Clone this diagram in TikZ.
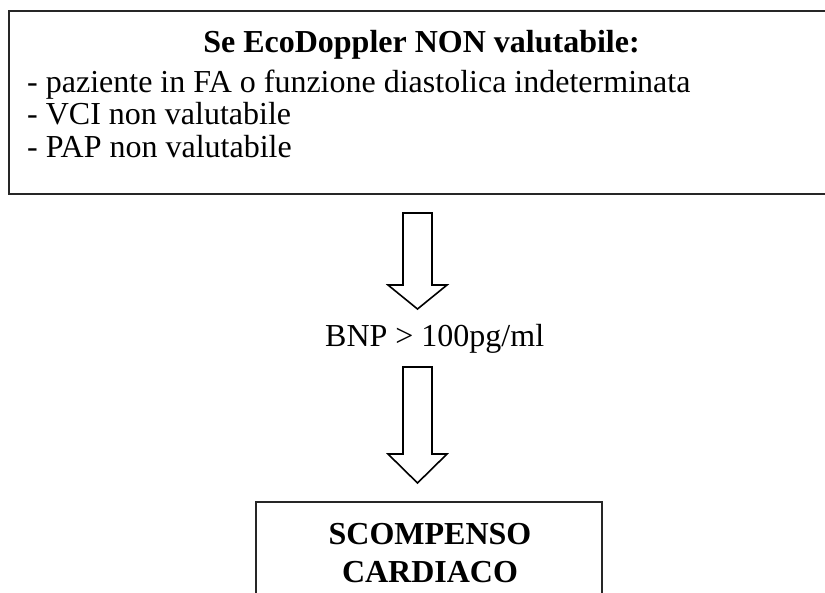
\documentclass[tikz,border=0pt]{standalone}
\usepackage{fontspec}
\setmainfont{Liberation Serif}
\begin{document}
\begin{tikzpicture}[x=1pt,y=-1pt,
  boxline/.style={draw=black!85,line width=2pt},
  blockarrow/.style={draw=black,line width=1.6pt,fill=white,line join=miter},
  bodytext/.style={inner sep=0pt,font=\fontsize{32}{38}\selectfont},
  titletext/.style={inner sep=0pt,font=\bfseries\fontsize{32}{38}\selectfont},
  bigtext/.style={inner sep=0pt,font=\bfseries\fontsize{32}{38}\selectfont}]
\useasboundingbox (0,0) rectangle (825,592);
\clip (0,0) rectangle (825,592);
\fill[white] (0,0) rectangle (825,592);
% top box
\draw[boxline] (9,11) rectangle (840,194);
\node[titletext,anchor=base] (title) at (421.5,52) {Se EcoDoppler NON valutabile:};
\node[bodytext,anchor=base west] (l1) at (27,92) {- paziente in FA o funzione diastolica indeterminata};
\node[bodytext,anchor=base west] (l2) at (27,124.5) {- VCI non valutabile};
\node[bodytext,anchor=base west] (l3) at (27,157) {- PAP non valutabile};
% arrow 1
\draw[blockarrow] (403,213) -- (432,213) -- (432,285) -- (447,285) -- (417.5,309) -- (388,285) -- (403,285) -- cycle;
\node[bodytext,anchor=base west] (bnp) at (325,346) {BNP > 100pg/ml};
% arrow 2
\draw[blockarrow] (403,367) -- (432,367) -- (432,454) -- (447,454) -- (417.5,483) -- (388,454) -- (403,454) -- cycle;
% bottom box
\draw[boxline] (256,502) rectangle (602,620);
\node[bigtext,anchor=base] (sc1) at (430,544) {SCOMPENSO};
\node[bigtext,anchor=base] (sc2) at (430,582) {CARDIACO};
\end{tikzpicture}
\end{document}
